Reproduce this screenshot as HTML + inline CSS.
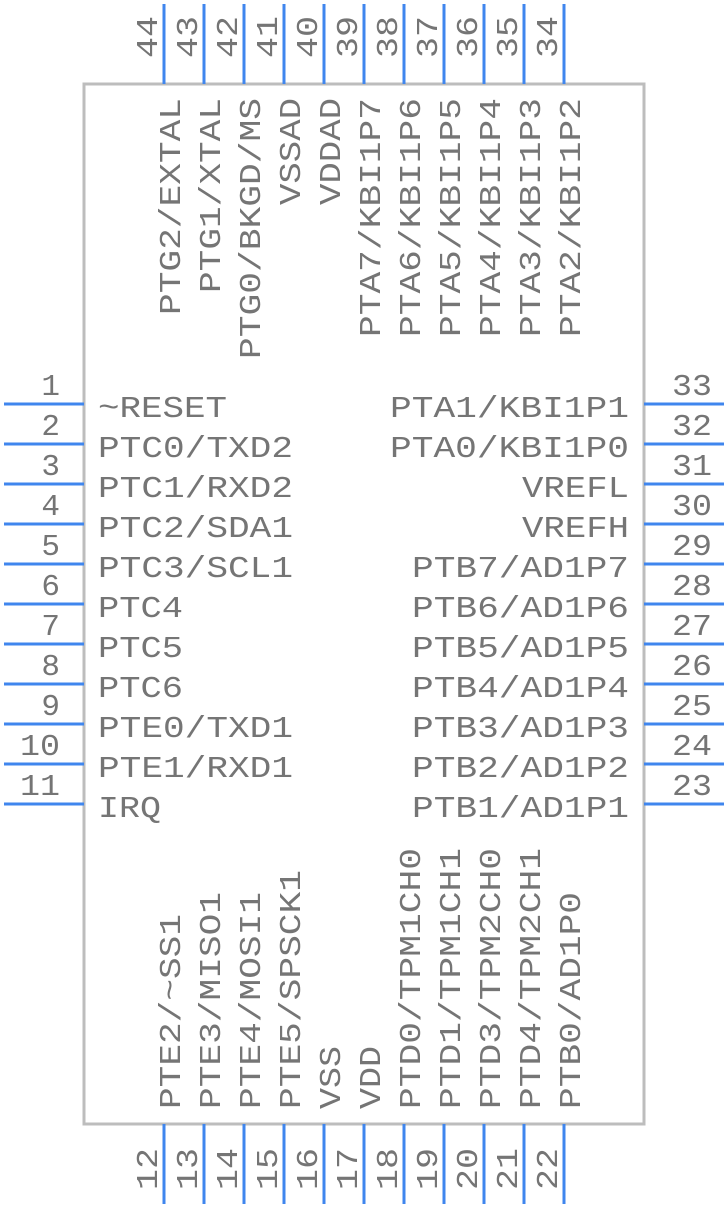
<!DOCTYPE html>
<html><head><meta charset="utf-8"><style>
html,body{margin:0;padding:0;background:#fff;}
svg{display:block;}
text{font-family:"Liberation Mono","Courier New",monospace;font-size:31px;fill:#757575;}
</style></head><body>
<svg width="728" height="1208" viewBox="0 0 728 1208" xmlns="http://www.w3.org/2000/svg">
<rect x="84" y="84" width="560" height="1040" fill="#fff" stroke="#bdbdbd" stroke-width="3"/>
<g stroke="#3f86ee" stroke-width="3">
<line x1="4" y1="404" x2="84" y2="404"/><line x1="4" y1="444" x2="84" y2="444"/><line x1="4" y1="484" x2="84" y2="484"/><line x1="4" y1="524" x2="84" y2="524"/><line x1="4" y1="564" x2="84" y2="564"/><line x1="4" y1="604" x2="84" y2="604"/><line x1="4" y1="644" x2="84" y2="644"/><line x1="4" y1="684" x2="84" y2="684"/><line x1="4" y1="724" x2="84" y2="724"/><line x1="4" y1="764" x2="84" y2="764"/><line x1="4" y1="804" x2="84" y2="804"/>
<line x1="644" y1="404" x2="724" y2="404"/><line x1="644" y1="444" x2="724" y2="444"/><line x1="644" y1="484" x2="724" y2="484"/><line x1="644" y1="524" x2="724" y2="524"/><line x1="644" y1="564" x2="724" y2="564"/><line x1="644" y1="604" x2="724" y2="604"/><line x1="644" y1="644" x2="724" y2="644"/><line x1="644" y1="684" x2="724" y2="684"/><line x1="644" y1="724" x2="724" y2="724"/><line x1="644" y1="764" x2="724" y2="764"/><line x1="644" y1="804" x2="724" y2="804"/>
<line x1="164" y1="4" x2="164" y2="84"/><line x1="204" y1="4" x2="204" y2="84"/><line x1="244" y1="4" x2="244" y2="84"/><line x1="284" y1="4" x2="284" y2="84"/><line x1="324" y1="4" x2="324" y2="84"/><line x1="364" y1="4" x2="364" y2="84"/><line x1="404" y1="4" x2="404" y2="84"/><line x1="444" y1="4" x2="444" y2="84"/><line x1="484" y1="4" x2="484" y2="84"/><line x1="524" y1="4" x2="524" y2="84"/><line x1="564" y1="4" x2="564" y2="84"/>
<line x1="164" y1="1124" x2="164" y2="1204"/><line x1="204" y1="1124" x2="204" y2="1204"/><line x1="244" y1="1124" x2="244" y2="1204"/><line x1="284" y1="1124" x2="284" y2="1204"/><line x1="324" y1="1124" x2="324" y2="1204"/><line x1="364" y1="1124" x2="364" y2="1204"/><line x1="404" y1="1124" x2="404" y2="1204"/><line x1="444" y1="1124" x2="444" y2="1204"/><line x1="484" y1="1124" x2="484" y2="1204"/><line x1="524" y1="1124" x2="524" y2="1204"/><line x1="564" y1="1124" x2="564" y2="1204"/>
</g>
<!-- left -->
<g text-anchor="start">
<text x="98" y="417" textLength="129" lengthAdjust="spacingAndGlyphs">~RESET</text>
<text x="98" y="457" textLength="195" lengthAdjust="spacingAndGlyphs">PTC0/TXD2</text>
<text x="98" y="497" textLength="195" lengthAdjust="spacingAndGlyphs">PTC1/RXD2</text>
<text x="98" y="537" textLength="195" lengthAdjust="spacingAndGlyphs">PTC2/SDA1</text>
<text x="98" y="577" textLength="195" lengthAdjust="spacingAndGlyphs">PTC3/SCL1</text>
<text x="98" y="617" textLength="85" lengthAdjust="spacingAndGlyphs">PTC4</text>
<text x="98" y="657" textLength="85" lengthAdjust="spacingAndGlyphs">PTC5</text>
<text x="98" y="697" textLength="85" lengthAdjust="spacingAndGlyphs">PTC6</text>
<text x="98" y="737" textLength="195" lengthAdjust="spacingAndGlyphs">PTE0/TXD1</text>
<text x="98" y="777" textLength="195" lengthAdjust="spacingAndGlyphs">PTE1/RXD1</text>
<text x="98" y="817" textLength="63" lengthAdjust="spacingAndGlyphs">IRQ</text>
</g>
<g text-anchor="end">
<text x="60" y="395">1</text><text x="60" y="435">2</text><text x="60" y="475">3</text><text x="60" y="515">4</text><text x="60" y="555">5</text><text x="60" y="595">6</text><text x="60" y="635">7</text><text x="60" y="675">8</text><text x="60" y="715">9</text><text x="60" y="755" textLength="40" lengthAdjust="spacingAndGlyphs">10</text><text x="60" y="795" textLength="40" lengthAdjust="spacingAndGlyphs">11</text>
<text x="712" y="395" textLength="40" lengthAdjust="spacingAndGlyphs">33</text><text x="712" y="435" textLength="40" lengthAdjust="spacingAndGlyphs">32</text><text x="712" y="475" textLength="40" lengthAdjust="spacingAndGlyphs">31</text><text x="712" y="515" textLength="40" lengthAdjust="spacingAndGlyphs">30</text><text x="712" y="555" textLength="40" lengthAdjust="spacingAndGlyphs">29</text><text x="712" y="595" textLength="40" lengthAdjust="spacingAndGlyphs">28</text><text x="712" y="635" textLength="40" lengthAdjust="spacingAndGlyphs">27</text><text x="712" y="675" textLength="40" lengthAdjust="spacingAndGlyphs">26</text><text x="712" y="715" textLength="40" lengthAdjust="spacingAndGlyphs">25</text><text x="712" y="755" textLength="40" lengthAdjust="spacingAndGlyphs">24</text><text x="712" y="795" textLength="40" lengthAdjust="spacingAndGlyphs">23</text>
<text x="629" y="417" textLength="239" lengthAdjust="spacingAndGlyphs">PTA1/KBI1P1</text>
<text x="629" y="457" textLength="239" lengthAdjust="spacingAndGlyphs">PTA0/KBI1P0</text>
<text x="629" y="497" textLength="107" lengthAdjust="spacingAndGlyphs">VREFL</text>
<text x="629" y="537" textLength="107" lengthAdjust="spacingAndGlyphs">VREFH</text>
<text x="629" y="577" textLength="217" lengthAdjust="spacingAndGlyphs">PTB7/AD1P7</text>
<text x="629" y="617" textLength="217" lengthAdjust="spacingAndGlyphs">PTB6/AD1P6</text>
<text x="629" y="657" textLength="217" lengthAdjust="spacingAndGlyphs">PTB5/AD1P5</text>
<text x="629" y="697" textLength="217" lengthAdjust="spacingAndGlyphs">PTB4/AD1P4</text>
<text x="629" y="737" textLength="217" lengthAdjust="spacingAndGlyphs">PTB3/AD1P3</text>
<text x="629" y="777" textLength="217" lengthAdjust="spacingAndGlyphs">PTB2/AD1P2</text>
<text x="629" y="817" textLength="217" lengthAdjust="spacingAndGlyphs">PTB1/AD1P1</text>
</g>
<!-- top labels (rotated, end at y=98) -->
<g text-anchor="end">
<text transform="translate(180,98) rotate(-90)" textLength="217" lengthAdjust="spacingAndGlyphs">PTG2/EXTAL</text>
<text transform="translate(220,98) rotate(-90)" textLength="195" lengthAdjust="spacingAndGlyphs">PTG1/XTAL</text>
<text transform="translate(260,98) rotate(-90)" textLength="261" lengthAdjust="spacingAndGlyphs">PTG0/BKGD/MS</text>
<text transform="translate(300,98) rotate(-90)" textLength="107" lengthAdjust="spacingAndGlyphs">VSSAD</text>
<text transform="translate(340,98) rotate(-90)" textLength="107" lengthAdjust="spacingAndGlyphs">VDDAD</text>
<text transform="translate(380,98) rotate(-90)" textLength="239" lengthAdjust="spacingAndGlyphs">PTA7/KBI1P7</text>
<text transform="translate(420,98) rotate(-90)" textLength="239" lengthAdjust="spacingAndGlyphs">PTA6/KBI1P6</text>
<text transform="translate(460,98) rotate(-90)" textLength="239" lengthAdjust="spacingAndGlyphs">PTA5/KBI1P5</text>
<text transform="translate(500,98) rotate(-90)" textLength="239" lengthAdjust="spacingAndGlyphs">PTA4/KBI1P4</text>
<text transform="translate(540,98) rotate(-90)" textLength="239" lengthAdjust="spacingAndGlyphs">PTA3/KBI1P3</text>
<text transform="translate(580,98) rotate(-90)" textLength="239" lengthAdjust="spacingAndGlyphs">PTA2/KBI1P2</text>
</g>
<!-- top numbers -->
<g text-anchor="start">
<text transform="translate(157,58) rotate(-90)" textLength="42" lengthAdjust="spacingAndGlyphs">44</text>
<text transform="translate(197,58) rotate(-90)" textLength="42" lengthAdjust="spacingAndGlyphs">43</text>
<text transform="translate(237,58) rotate(-90)" textLength="42" lengthAdjust="spacingAndGlyphs">42</text>
<text transform="translate(277,58) rotate(-90)" textLength="42" lengthAdjust="spacingAndGlyphs">41</text>
<text transform="translate(317,58) rotate(-90)" textLength="42" lengthAdjust="spacingAndGlyphs">40</text>
<text transform="translate(357,58) rotate(-90)" textLength="42" lengthAdjust="spacingAndGlyphs">39</text>
<text transform="translate(397,58) rotate(-90)" textLength="42" lengthAdjust="spacingAndGlyphs">38</text>
<text transform="translate(437,58) rotate(-90)" textLength="42" lengthAdjust="spacingAndGlyphs">37</text>
<text transform="translate(477,58) rotate(-90)" textLength="42" lengthAdjust="spacingAndGlyphs">36</text>
<text transform="translate(517,58) rotate(-90)" textLength="42" lengthAdjust="spacingAndGlyphs">35</text>
<text transform="translate(557,58) rotate(-90)" textLength="42" lengthAdjust="spacingAndGlyphs">34</text>
<!-- bottom labels -->
<text transform="translate(180,1109) rotate(-90)" textLength="195" lengthAdjust="spacingAndGlyphs">PTE2/~SS1</text>
<text transform="translate(220,1109) rotate(-90)" textLength="217" lengthAdjust="spacingAndGlyphs">PTE3/MISO1</text>
<text transform="translate(260,1109) rotate(-90)" textLength="217" lengthAdjust="spacingAndGlyphs">PTE4/MOSI1</text>
<text transform="translate(300,1109) rotate(-90)" textLength="239" lengthAdjust="spacingAndGlyphs">PTE5/SPSCK1</text>
<text transform="translate(340,1109) rotate(-90)" textLength="63" lengthAdjust="spacingAndGlyphs">VSS</text>
<text transform="translate(380,1109) rotate(-90)" textLength="63" lengthAdjust="spacingAndGlyphs">VDD</text>
<text transform="translate(420,1109) rotate(-90)" textLength="261" lengthAdjust="spacingAndGlyphs">PTD0/TPM1CH0</text>
<text transform="translate(460,1109) rotate(-90)" textLength="261" lengthAdjust="spacingAndGlyphs">PTD1/TPM1CH1</text>
<text transform="translate(500,1109) rotate(-90)" textLength="261" lengthAdjust="spacingAndGlyphs">PTD3/TPM2CH0</text>
<text transform="translate(540,1109) rotate(-90)" textLength="261" lengthAdjust="spacingAndGlyphs">PTD4/TPM2CH1</text>
<text transform="translate(580,1109) rotate(-90)" textLength="217" lengthAdjust="spacingAndGlyphs">PTB0/AD1P0</text>
<!-- bottom numbers -->
<text transform="translate(157,1190) rotate(-90)" textLength="42" lengthAdjust="spacingAndGlyphs">12</text>
<text transform="translate(197,1190) rotate(-90)" textLength="42" lengthAdjust="spacingAndGlyphs">13</text>
<text transform="translate(237,1190) rotate(-90)" textLength="42" lengthAdjust="spacingAndGlyphs">14</text>
<text transform="translate(277,1190) rotate(-90)" textLength="42" lengthAdjust="spacingAndGlyphs">15</text>
<text transform="translate(317,1190) rotate(-90)" textLength="42" lengthAdjust="spacingAndGlyphs">16</text>
<text transform="translate(357,1190) rotate(-90)" textLength="42" lengthAdjust="spacingAndGlyphs">17</text>
<text transform="translate(397,1190) rotate(-90)" textLength="42" lengthAdjust="spacingAndGlyphs">18</text>
<text transform="translate(437,1190) rotate(-90)" textLength="42" lengthAdjust="spacingAndGlyphs">19</text>
<text transform="translate(477,1190) rotate(-90)" textLength="42" lengthAdjust="spacingAndGlyphs">20</text>
<text transform="translate(517,1190) rotate(-90)" textLength="42" lengthAdjust="spacingAndGlyphs">21</text>
<text transform="translate(557,1190) rotate(-90)" textLength="42" lengthAdjust="spacingAndGlyphs">22</text>
</g>
</svg>
</body></html>
